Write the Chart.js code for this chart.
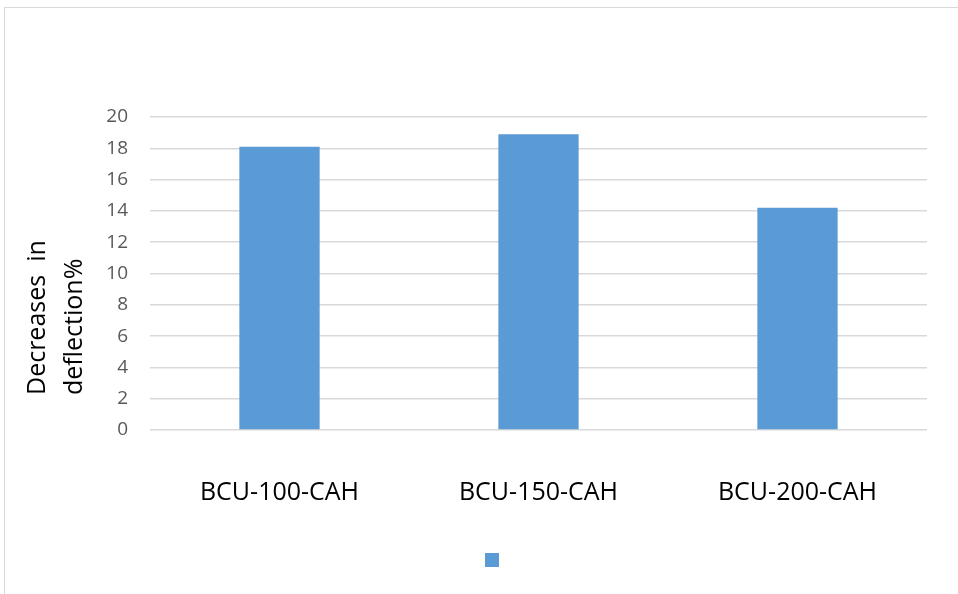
<!DOCTYPE html>
<html>
<head>
<meta charset="utf-8">
<script src="https://cdn.jsdelivr.net/npm/chart.js@4.4.0/dist/chart.umd.min.js"></script>
<style>
  body { margin: 0; background: #fff; }
  #wrap { position: relative; width: 958px; height: 594px; overflow: hidden; }
  #frame { position: absolute; left: 4px; top: 7px; width: 970px; height: 600px; border: 1px solid #d9d9d9; }
  canvas { position: absolute; left: 0; top: 0; }
</style>
</head>
<body>
<div id="wrap">
  <div id="frame"></div>
  <canvas id="deflChart" width="958" height="594"></canvas>
</div>
<script>
const categories = ["BCU-100-CAH", "BCU-150-CAH", "BCU-200-CAH"];
const deflectionDrop = [18.1, 18.9, 14.2];
const yTitle = ["Decreases  in", "deflection%"];

// y axis title, two rotated lines starting from the bottom like the original
const yTitlePlugin = {
  id: "yTitle",
  afterDraw(chart) {
    const c = chart.ctx;
    c.save();
    c.translate(0, 395);
    c.rotate(-Math.PI / 2);
    c.fillStyle = "#000";
    c.font = "25px 'Open Sans'";
    c.textAlign = "left";
    c.textBaseline = "alphabetic";
    c.fillText(yTitle[0], 0, 45);
    c.fillText(yTitle[1], 0, 82);
    c.restore();
  },
};

// nudge the legend a little right, as in the original
const legendShift = {
  id: "legendShift",
  afterLayout(chart) {
    chart.legend.left += 32;
    chart.legend.right += 32;
  },
};

const ctx = document.getElementById("deflChart").getContext("2d");
const deflChart = new Chart(ctx, {
  type: "bar",
  data: {
    labels: categories,
    datasets: [
      {
        label: "",
        data: deflectionDrop,
        backgroundColor: "#5b9bd5",
        borderColor: "#5b9bd5",
        barPercentage: 0.31,
        categoryPercentage: 1,
      },
    ],
  },
  plugins: [yTitlePlugin, legendShift],
  options: {
    responsive: false,
    animation: false,
    layout: { padding: { top: 117, right: 31, bottom: 17, left: 0 } },
    plugins: {
      tooltip: { enabled: false },
      legend: {
        position: "bottom",
        labels: { boxWidth: 14, boxHeight: 14, padding: 10, font: { family: "Open Sans", size: 14 } },
      },
    },
    scales: {
      y: {
        min: 0,
        max: 20,
        ticks: { stepSize: 2, color: "#595959", padding: 22, font: { family: "Open Sans", size: 19 } },
        grid: { color: "#d9d9d9", lineWidth: 1.5, drawTicks: false },
        border: { display: false },
        afterFit: (scale) => { scale.width = 150; },
      },
      x: {
        grid: { display: false },
        border: { display: false },
        ticks: { color: "#000", padding: 40, font: { family: "Open Sans", size: 25 } },
        afterFit: (scale) => { scale.height = 113; },
      },
    },
  },
});
</script>
</body>
</html>
